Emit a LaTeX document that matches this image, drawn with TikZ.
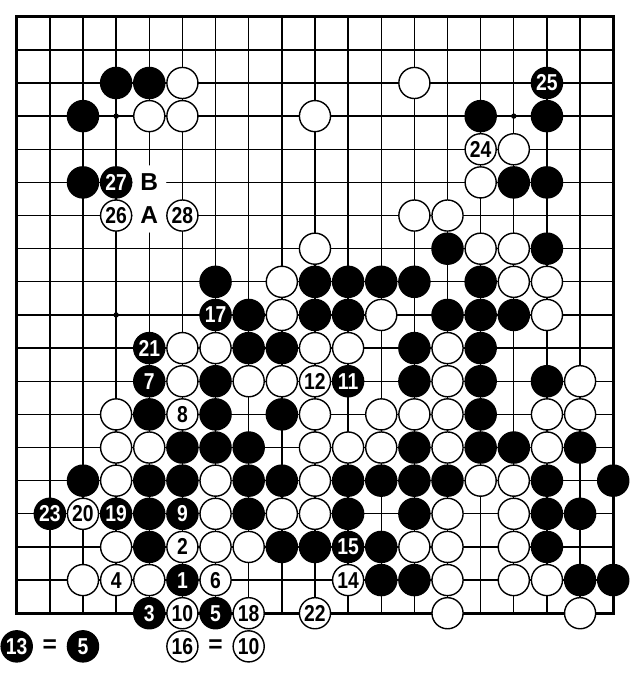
\documentclass[tikz,border=0pt]{standalone}
\usepackage{fontspec}
\setmainfont{Liberation Sans}
\newfontfamily\stonefnt{Liberation Sans}[FakeStretch=0.84]
\begin{document}
\begin{tikzpicture}[x=33.14pt,y=-33.14pt,
  gridline/.style={line width=1.35pt},
  stonefont/.style={font=\stonefnt\fontsize{23}{23}\selectfont\bfseries},
  letterfont/.style={font=\fontsize{24.5}{24.5}\selectfont\bfseries},
  bst/.style={circle,draw=black,fill=black,line width=1.4pt,minimum size=31.1pt,inner sep=0pt,text=white,stonefont},
  wst/.style={circle,draw=black,fill=white,line width=1.4pt,minimum size=31.1pt,inner sep=0pt,text=black,stonefont},
  lbl/.style={circle,fill=white,minimum size=34pt,inner sep=0pt,text=black,letterfont}]
\useasboundingbox (-0.504,-0.504) rectangle (18.808,19.834);
\fill[white] (-0.504,-0.504) rectangle (18.808,19.834);
% grid
\foreach \i in {0,...,18} {
  \draw[gridline] (\i,0) -- (\i,18);
  \draw[gridline] (0,\i) -- (18,\i);
}
\draw[line width=3.3pt] (0,0) rectangle (18,18);
% star points
\foreach \c in {3,9,15} \foreach \r in {3,9,15} \fill (\c,\r) circle (2.7pt);
% labels
\node[lbl] (labB) at (4,5) {B};
\node[lbl] (labA) at (4,6) {A};
% black stones
\foreach \c/\r in {3/2,4/2, 2/3,14/3,16/3, 2/5,15/5,16/5, 13/7,16/7,
  6/8,9/8,10/8,11/8,12/8,14/8, 7/9,9/9,10/9,13/9,14/9,15/9,
  7/10,8/10,12/10,14/10, 6/11,12/11,14/11,16/11, 4/12,6/12,8/12,14/12,
  5/13,6/13,7/13,12/13,14/13,15/13,17/13,
  2/14,4/14,5/14,7/14,8/14,10/14,11/14,12/14,13/14,16/14,18/14,
  4/15,7/15,10/15,12/15,16/15,17/15, 4/16,8/16,9/16,11/16,16/16,
  11/17,12/17,17/17,18/17}
  \node[bst] (b-\c-\r) at (\c,\r) {};
% white stones
\foreach \c/\r in {5/2,12/2, 4/3,5/3,9/3, 15/4, 14/5, 12/6,13/6, 9/7,14/7,15/7,
  8/8,15/8,16/8, 8/9,11/9,16/9, 5/10,6/10,9/10,10/10,13/10,
  5/11,7/11,8/11,13/11,17/11, 3/12,9/12,11/12,12/12,13/12,16/12,17/12,
  3/13,4/13,9/13,10/13,11/13,13/13,16/13, 3/14,6/14,9/14,14/14,15/14,
  6/15,8/15,9/15,13/15,15/15, 3/16,6/16,7/16,12/16,13/16,15/16,
  2/17,4/17,13/17,15/17,16/17, 13/18,17/18}
  \node[wst] (w-\c-\r) at (\c,\r) {};
% numbered black stones
\foreach \c/\r/\n in {16/2/25, 3/5/27, 6/9/17, 4/10/21, 4/11/7, 10/11/11,
  1/15/23, 3/15/19, 5/15/9, 10/16/15, 5/17/1, 4/18/3, 6/18/5, 0/19/13, 2/19/5}
  \node[bst] (bn-\c-\r) at (\c,\r) {\n};
% numbered white stones
\foreach \c/\r/\n in {14/4/24, 3/6/26, 5/6/28, 9/11/12, 5/12/8, 2/15/20, 5/16/2,
  3/17/4, 6/17/6, 10/17/14, 5/18/10, 7/18/18, 9/18/22, 5/19/16, 7/19/10}
  \node[wst] (wn-\c-\r) at (\c,\r) {\n};
% equals signs
\node[letterfont] (eq1) at (1,19) {=};
\node[letterfont] (eq2) at (6,19) {=};
\end{tikzpicture}
\end{document}
